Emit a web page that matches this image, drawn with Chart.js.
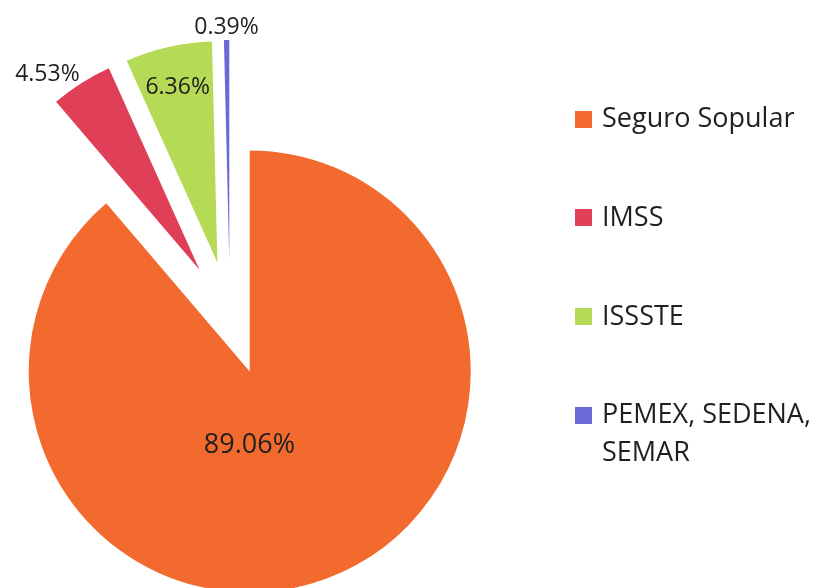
<!DOCTYPE html>
<html>
<head>
<meta charset="utf-8">
<script src="https://cdn.jsdelivr.net/npm/chart.js@4/dist/chart.umd.min.js"></script>
<style>
  html, body { margin: 0; padding: 0; background: #fff; overflow: hidden; }
  #wrapper { position: relative; width: 820px; height: 588px; }
  #chart { position: absolute; left: 0; top: 0; }
  .legend-item { position: absolute; left: 575px; width: 240px; }
  .legend-box { position: absolute; left: 0; top: 12.5px; width: 17px; height: 17px; }
  .legend-text {
    margin-left: 27px;
    font-family: "Open Sans", sans-serif;
    font-size: 27px;
    line-height: 38px;
    color: #1f1f1f;
  }
</style>
</head>
<body>
<div id="wrapper">
  <canvas id="chart" width="820" height="588"></canvas>
  <div id="legend"></div>
</div>
<script>
// chart data
const categories = ["Seguro Sopular", "IMSS", "ISSSTE", "PEMEX, SEDENA, SEMAR"];
const shares = [89.06, 4.53, 6.36, 0.39];
const shareLabels = ["89.06%", "4.53%", "6.36%", "0.39%"];
const colors = ["#f26a2e", "#e03f58", "#b5da55", "#6a6ad6"];

// how far every slice is pulled out of the pie
const explode = 57;

// where each percent label goes
const labelSpots = [
  { inside: true, dist: 0.335, turn: 20.5, size: 27 },
  { inside: false, gap: 3, size: 23 },
  { inside: true, dist: 0.81, turn: 0, size: 23 },
  { inside: false, gap: 6, size: 23 },
];

//draw the slices pulled out along their middle angle
const explodePlugin = {
  id: "explode",
  beforeDatasetDraw(chart, args) {
    let ctx = chart.ctx;
    args.meta.data.forEach((arc) => {
      let mid = (arc.startAngle + arc.endAngle) / 2;
      ctx.save();
      ctx.translate(Math.cos(mid) * explode, Math.sin(mid) * explode);
      arc.draw(ctx);
      ctx.restore();
    });
    return false;
  },
};

//percent labels
const labelPlugin = {
  id: "percentLabels",
  afterDatasetsDraw(chart) {
    let ctx = chart.ctx;
    let arcs = chart.getDatasetMeta(0).data;
    arcs.forEach((arc, i) => {
      let spot = labelSpots[i];
      let mid = (arc.startAngle + arc.endAngle) / 2;
      let r = arc.outerRadius;
      let apexX = arc.x + Math.cos(mid) * explode;
      let apexY = arc.y + Math.sin(mid) * explode;
      ctx.save();
      ctx.fillStyle = "#1f1f1f";
      ctx.font = spot.size + 'px "Open Sans", sans-serif';
      if (spot.inside) {
        let a = mid + (spot.turn * Math.PI) / 180;
        ctx.textAlign = "center";
        ctx.textBaseline = "middle";
        ctx.fillText(shareLabels[i], apexX + Math.cos(a) * r * spot.dist, apexY + Math.sin(a) * r * spot.dist);
      } else {
        let dx = Math.cos(mid);
        let dy = Math.sin(mid);
        let x = apexX + dx * (r + spot.gap);
        let y = apexY + dy * (r + spot.gap);
        ctx.textAlign = dx < -0.3 ? "right" : dx > 0.3 ? "left" : "center";
        ctx.textBaseline = dy < -0.3 ? "alphabetic" : dy > 0.3 ? "top" : "middle";
        ctx.fillText(shareLabels[i], x, y);
      }
      ctx.restore();
    });
  },
};

const config = {
  type: "pie",
  data: {
    labels: categories,
    datasets: [
      {
        data: shares,
        backgroundColor: colors,
        borderWidth: 0,
        hoverOffset: 0,
      },
    ],
  },
  options: {
    responsive: false,
    animation: false,
    layout: {
      padding: { left: 9, top: 97, right: 369, bottom: 49 },
    },
    plugins: {
      legend: { display: false },
      tooltip: { enabled: false },
    },
  },
  plugins: [explodePlugin, labelPlugin],
};

let chart = new Chart(document.getElementById("chart"), config);

// legend on the right
let legend = document.getElementById("legend");
categories.forEach((name, i) => {
  let item = `<div class="legend-item" style="top:${98 + i * 98.8}px">
      <span class="legend-box" style="background:${colors[i]}"></span>
      <div class="legend-text">${name}</div>
    </div>`;
  legend.insertAdjacentHTML("beforeend", item);
});
</script>
</body>
</html>
